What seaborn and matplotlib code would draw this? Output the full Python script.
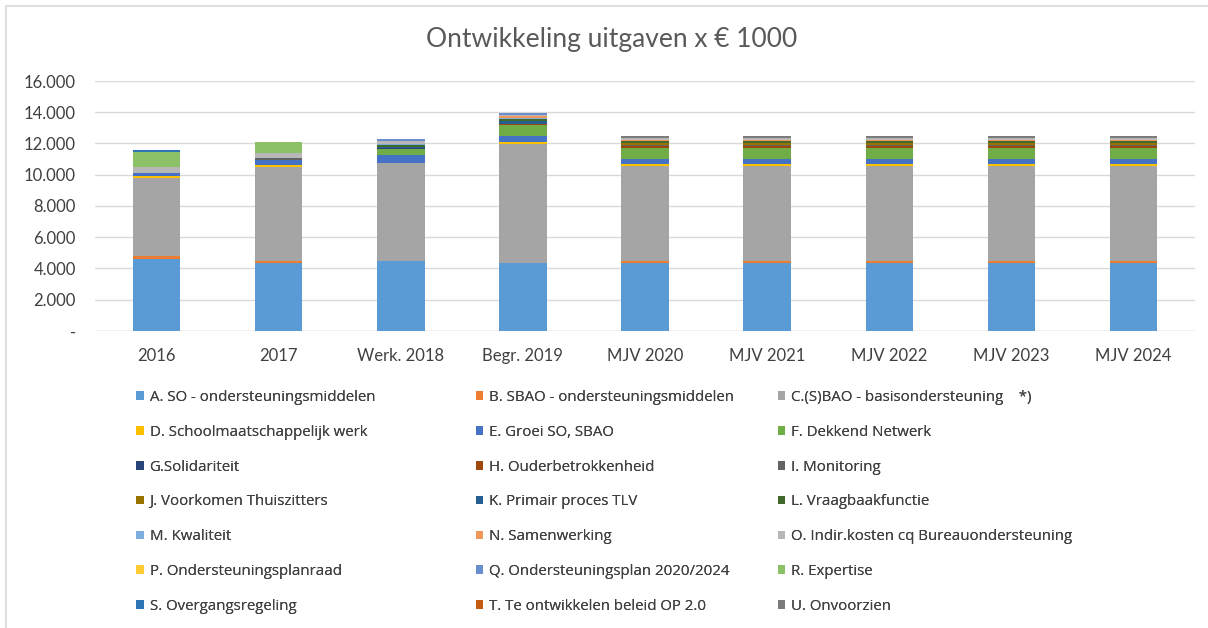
import numpy as np
import pandas as pd
import seaborn as sns
import matplotlib.pyplot as plt
from matplotlib.patches import Patch
from matplotlib.lines import Line2D
from matplotlib.ticker import FuncFormatter

# categories on the x axis
jaren = ['2016', '2017', 'Werk. 2018', 'Begr. 2019', 'MJV 2020',
         'MJV 2021', 'MJV 2022', 'MJV 2023', 'MJV 2024']

# series names (legend), in stacking order
posten = ['A. SO - ondersteuningsmiddelen', 'B. SBAO - ondersteuningsmiddelen',
          'C.(S)BAO - basisondersteuning    *)', 'D. Schoolmaatschappelijk werk',
          'E. Groei SO, SBAO', 'F. Dekkend Netwerk', 'G.Solidariteit',
          'H. Ouderbetrokkenheid', 'I. Monitoring', 'J. Voorkomen Thuiszitters',
          'K. Primair proces TLV', 'L. Vraagbaakfunctie', 'M. Kwaliteit',
          'N. Samenwerking', 'O. Indir.kosten cq Bureauondersteuning',
          'P. Ondersteuningsplanraad', 'Q. Ondersteuningsplan 2020/2024',
          'R. Expertise', 'S. Overgangsregeling', 'T. Te ontwikkelen beleid OP 2.0',
          'U. Onvoorzien']

kleuren = ['#5B9BD5', '#ED7D31', '#A5A5A5', '#FFC000', '#4472C4', '#70AD47',
           '#264478', '#9E480E', '#636363', '#997300', '#255E91', '#43682B',
           '#7CAFDD', '#F1975A', '#B7B7B7', '#FFCD33', '#698ED0', '#8CC168',
           '#2E75B6', '#C55A11', '#7B7B7B']

# values x 1000 euro (one list per series)
mjv = 5
A = [4600, 4370, 4460, 4370] + [4370] * mjv
B = [200, 85, 0, 0] + [107] * mjv
C = [5010, 6060, 6310, 7600] + [6100] * mjv
D = [100, 107, 0, 107] + [107] * mjv
E = [170, 320, 510, 385] + [320] * mjv
F = [0, 0, 385, 705] + [705] * mjv
G = [0, 0, 60, 0] + [0] * mjv
H = [0, 0, 0, 107] + [102] * mjv
I = [0, 107, 0, 0] + [107] * mjv
J = [0, 0, 0, 0] + [107] * mjv
K = [0, 0, 60, 147] + [0] * mjv
L = [0, 0, 117, 147] + [107] * mjv
M = [0, 0, 83, 64] + [0] * mjv
N = [0, 0, 0, 107] + [83] * mjv
O = [420, 320, 154, 102] + [107] * mjv
P = [0, 0, 0, 0] + [0] * mjv
Q = [0, 0, 166, 128] + [0] * mjv
R = [960, 704, 0, 0] + [0] * mjv
S = [100, 0, 0, 0] + [0] * mjv
T = [0, 0, 0, 0] + [0] * mjv
U = [0, 0, 0, 0] + [166] * mjv

waarden = [A, B, C, D, E, F, G, H, I, J, K, L, M, N, O, P, Q, R, S, T, U]

df = pd.DataFrame(np.array(waarden).T, index=jaren, columns=posten)
cum = df.cumsum(axis=1)

sns.set_theme(style='white')
plt.rcParams['font.family'] = ['Lato', 'DejaVu Sans']
grijs = '#595959'
tekst = '#404040'

fig = plt.figure(figsize=(12.08, 6.28), dpi=100)
ax = fig.add_axes([0.079, 0.473, 0.910, 0.398])

# stacked bars: draw cumulative totals from the top series down
for naam, kleur in reversed(list(zip(posten, kleuren))):
    sns.barplot(x=jaren, y=cum[naam].values, order=jaren, color=kleur,
                saturation=1, width=0.39, linewidth=0, ax=ax)

ax.set_ylim(0, 16000)
ax.set_xlim(-0.5, len(jaren) - 0.5)
ax.set_yticks(np.arange(0, 16001, 2000))
ax.yaxis.set_major_formatter(FuncFormatter(
    lambda v, p: '-' if v == 0 else f'{int(v):,}'.replace(',', '.')))
ax.yaxis.grid(True, color='#D9D9D9', linewidth=1)
ax.set_axisbelow(True)
for s in ax.spines.values():
    s.set_visible(False)
ax.axhline(0, color='#D9D9D9', linewidth=1, zorder=0)
ax.tick_params(axis='y', labelsize=12, labelcolor=tekst, length=0, pad=14)
ax.tick_params(axis='x', labelsize=12, labelcolor=tekst, length=0, pad=12)
ax.set_xlabel('')
ax.set_ylabel('')

fig.text(0.506, 0.937, 'Ontwikkeling uitgaven x € 1000', ha='center', va='center',
         fontsize=19, color=grijs)

# legend in three columns, row-wise order like Excel
handles = [Patch(facecolor=k, edgecolor='none') for k in kleuren]
kol_x = [0.1126, 0.394, 0.644]
for i in range(3):
    leg = fig.legend(handles[i::3], posten[i::3], loc='upper left',
                     bbox_to_anchor=(kol_x[i], 0.379), frameon=False,
                     prop={'family': ['Open Sans', 'DejaVu Sans'], 'size': 10.8},
                     labelcolor=tekst, handlelength=0.5, handleheight=0.5,
                     handletextpad=0.4, labelspacing=1.32,
                     borderpad=0, borderaxespad=0)
    fig.add_artist(leg)

# chart frame (top and left edge visible)
fig.add_artist(Line2D([6 / 1208, 1], [1 - 5.5 / 628] * 2, color='#D9D9D9', lw=1.2,
                      transform=fig.transFigure))
fig.add_artist(Line2D([6 / 1208] * 2, [0, 1 - 5.5 / 628], color='#D9D9D9', lw=1.2,
                      transform=fig.transFigure))

fig.savefig('out.png', dpi=100)
